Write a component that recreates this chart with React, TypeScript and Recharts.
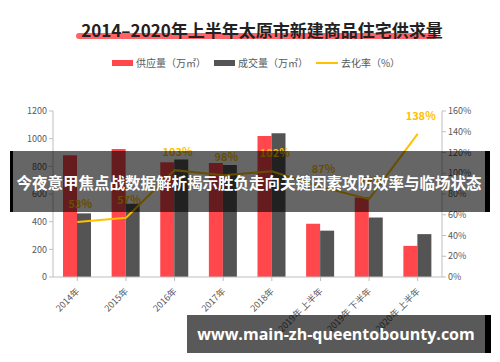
import { Bar, ComposedChart, LabelList, Legend, Line, XAxis, YAxis } from "recharts"

const CATEGORIES = [
    "2014年",
    "2015年",
    "2016年",
    "2017年",
    "2018年",
    "2019年 上半年",
    "2019年 下半年",
    "2020年 上半年",
]
const SUPPLY = [880, 925, 830, 825, 1020, 385, 575, 225]
const DEAL = [460, 530, 850, 810, 1040, 335, 430, 310]
const RATE = [53, 57, 103, 98, 102, 87, 75, 138]
const LEFT_TICKS = [0, 200, 400, 600, 800, 1000, 1200]
const RIGHT_TICKS = [0, 20, 40, 60, 80, 100, 120, 140, 160]

const RED = "#ff474c"
const DARK = "#545454"
const GOLD = "#ffc000"
const AXIS = "#bfbfbf"
const FONT = '"Noto Sans CJK SC", "Noto Sans", sans-serif'

const data = CATEGORIES.map((name, i) => ({
    name,
    supply: SUPPLY[i],
    deal: DEAL[i],
    rate: RATE[i],
}))

const TICK = { fill: "#595959", fontSize: 9, fontFamily: FONT }

function XTick({ x, y, payload }: any) {
    return (
        <g transform={`translate(${x},${y + 6})`}>
            <text textAnchor="end" transform="rotate(-45)" dy={4} {...TICK}>
                {payload.value}
            </text>
        </g>
    )
}

function RateLabel({ x, y, value }: any) {
    return (
        <text
            x={x + 3}
            y={y - 14}
            textAnchor="middle"
            fill={GOLD}
            fontSize={11}
            fontWeight={700}
            fontFamily={FONT}
        >
            {value}%
        </text>
    )
}

function LegendContent() {
    const item = { display: "flex", alignItems: "center", gap: 3 } as const
    return (
        <div
            style={{
                display: "flex",
                justifyContent: "center",
                gap: 8,
                fontSize: 10,
                color: "#595959",
                fontFamily: FONT,
                marginLeft: 12,
            }}
        >
            <span style={item}>
                <span style={{ width: 21, height: 6, background: RED }} />
                供应量（万㎡）
            </span>
            <span style={item}>
                <span style={{ width: 21, height: 6, background: DARK }} />
                成交量（万㎡）
            </span>
            <span style={item}>
                <span style={{ width: 22, height: 2, background: GOLD }} />
                去化率（%）
            </span>
        </div>
    )
}

export default function App() {
    return (
        <div
            style={{
                position: "absolute",
                left: 0,
                top: 0,
                width: 500,
                height: 362,
                background: "#fff",
                overflow: "hidden",
                fontFamily: FONT,
            }}
        >
            <div
                style={{
                    position: "absolute",
                    left: 76,
                    top: 33,
                    width: 361,
                    height: 6,
                    borderRadius: 3,
                    background: RED,
                    opacity: 0.85,
                }}
            />
            <div
                style={{
                    position: "absolute",
                    left: 12,
                    width: 500,
                    top: 20,
                    textAlign: "center",
                    fontSize: 17,
                    fontWeight: 700,
                    color: "#222",
                    lineHeight: "20px",
                }}
            >
                2014–2020年上半年太原市新建商品住宅供求量
            </div>

            <ComposedChart
                width={500}
                height={362}
                data={data}
                margin={{ top: 96, right: 23, left: 18, bottom: 25 }}
                barSize={14}
                barGap={0}
            >
                <Legend
                    verticalAlign="top"
                    content={<LegendContent />}
                    wrapperStyle={{ top: 55, left: 0, width: 500 }}
                />
                <XAxis
                    dataKey="name"
                    interval={0}
                    height={60}
                    tick={<XTick />}
                    stroke={AXIS}
                    tickSize={4}
                />
                <YAxis
                    yAxisId="left"
                    domain={[0, 1200]}
                    ticks={LEFT_TICKS}
                    width={35}
                    tick={TICK}
                    stroke={AXIS}
                    tickSize={4}
                />
                <YAxis
                    yAxisId="right"
                    orientation="right"
                    domain={[0, 160]}
                    ticks={RIGHT_TICKS}
                    tickFormatter={(v: number) => `${v}%`}
                    width={35}
                    tick={TICK}
                    stroke={AXIS}
                    tickSize={4}
                />
                <Bar yAxisId="left" dataKey="supply" fill={RED} isAnimationActive={false} />
                <Bar yAxisId="left" dataKey="deal" fill={DARK} isAnimationActive={false} />
                <Line
                    yAxisId="right"
                    dataKey="rate"
                    stroke={GOLD}
                    strokeWidth={2}
                    dot={false}
                    isAnimationActive={false}
                >
                    <LabelList dataKey="rate" content={<RateLabel />} />
                </Line>
            </ComposedChart>

            <div
                style={{
                    position: "absolute",
                    left: 10,
                    top: 151,
                    width: 480,
                    height: 61,
                    background: "rgba(0,0,0,0.6)",
                    borderLeft: "3px solid #000",
                    borderRight: "5px solid #000",
                    boxSizing: "border-box",
                    display: "flex",
                    alignItems: "center",
                    justifyContent: "center",
                    color: "#fff",
                    fontSize: 15.5,
                    fontWeight: 700,
                    whiteSpace: "nowrap",
                }}
            >
                今夜意甲焦点战数据解析揭示胜负走向关键因素攻防效率与临场状态
            </div>
            <div
                style={{
                    position: "absolute",
                    left: 187,
                    top: 315,
                    width: 304,
                    height: 38,
                    background: "rgba(0,0,0,0.65)",
                    borderRight: "6px solid #000",
                    boxSizing: "border-box",
                    display: "flex",
                    alignItems: "center",
                    justifyContent: "center",
                    color: "#fff",
                    fontSize: 16,
                    fontWeight: 700,
                    fontFamily: '"Open Sans", "Noto Sans", sans-serif',
                    whiteSpace: "nowrap",
                }}
            >
                www.main-zh-queentobounty.com
            </div>
        </div>
    )
}
